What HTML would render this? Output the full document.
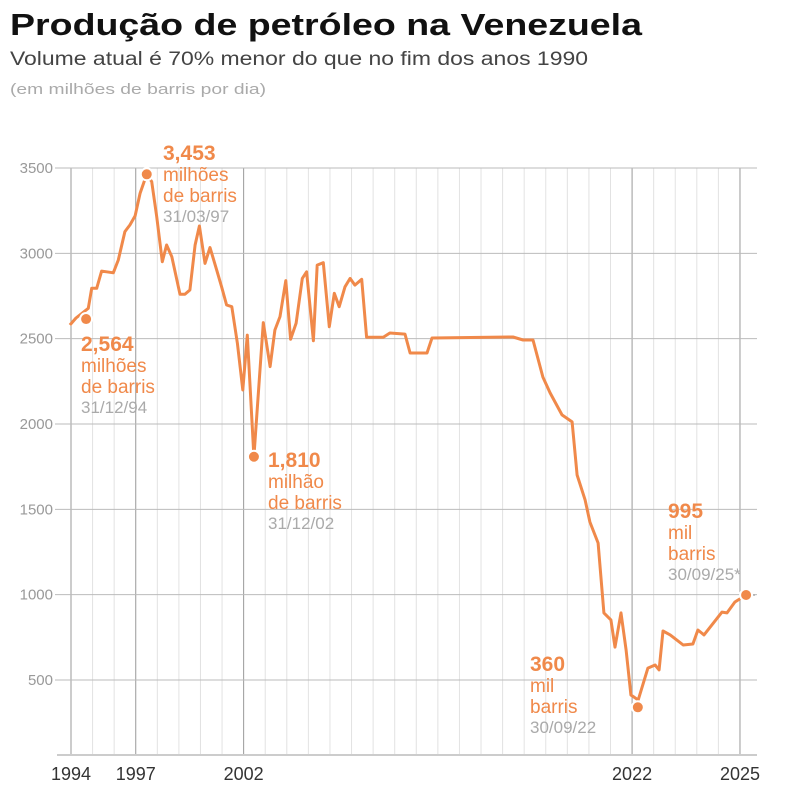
<!DOCTYPE html>
<html><head><meta charset="utf-8"><style>
body{margin:0;background:#fff;}
svg{display:block;font-family:"Liberation Sans",sans-serif;}
</style></head><body>
<svg id="chart" width="807" height="797" viewBox="0 0 807 797" xmlns="http://www.w3.org/2000/svg">
<text x="10" y="35" font-size="31" font-weight="bold" fill="#111" textLength="632" lengthAdjust="spacingAndGlyphs">Produção de petróleo na Venezuela</text>
<text x="10" y="65" font-size="19" fill="#444" textLength="578" lengthAdjust="spacingAndGlyphs">Volume atual é 70% menor do que no fim dos anos 1990</text>
<text x="10" y="94" font-size="15" fill="#aaa" textLength="256" lengthAdjust="spacingAndGlyphs">(em milhões de barris por dia)</text>
<g id="grid"></g>
<g id="axes"></g>
<g id="series"></g>
<g id="ann"></g>
</svg>
<script>
const years = [1993.95,1994.23,1994.80,1994.96,1995.19,1995.42,1995.65,1995.96,1996.19,1996.50,1996.73,1996.97,1997.20,1997.51,1997.74,1997.97,1998.23,1998.43,1998.67,1999.05,1999.28,1999.51,1999.75,1999.95,2000.21,2000.44,2000.75,2000.98,2001.21,2001.45,2001.71,2001.96,2002.19,2002.53,2003.01,2003.36,2003.61,2003.87,2004.17,2004.42,2004.70,2005.02,2005.24,2005.59,2005.79,2006.10,2006.41,2006.67,2006.92,2007.22,2007.48,2007.73,2008.08,2008.33,2009.19,2009.53,2010.31,2010.57,2011.44,2011.70,2015.87,2016.39,2016.90,2017.41,2017.78,2018.39,2018.91,2019.17,2019.58,2019.83,2020.25,2020.55,2020.91,2021.12,2021.43,2021.69,2021.94,2022.17,2022.44,2022.64,2022.75,2022.86,2023.06,2023.42,2023.69,2023.83,2024.00,2024.50,2024.64,2024.86,2025.17];
const values = [2580,2621,2678,2795,2795,2896,2892,2886,2961,3127,3166,3219,3352,3463,3420,3215,2951,3049,2980,2760,2760,2785,3049,3160,2941,3034,2902,2804,2697,2687,2473,2199,2521,1808,2594,2336,2551,2629,2840,2496,2590,2853,2892,2488,2931,2945,2570,2766,2687,2804,2853,2814,2848,2508,2508,2533,2527,2416,2416,2504,2510,2492,2492,2275,2182,2053,2012,1701,1555,1426,1303,893,852,693,893,676,412,383,570,588,559,787,764,705,711,793,764,898,893,957,998];
const yTicks = [500,1000,1500,2000,2500,3000,3500];
const xTickYears = [1994,1997,2002,2022,2025];
const highlightYears = [1994.70,1997.51,2002.53,2022.16,2025.17];
const highlightValues = [2615,3463,1808,340,998];
const highlightNums = ["2,564","3,453","1,810","360","995"];
const highlightUnit1 = ["milhões","milhões","milhão","mil","mil"];
const highlightUnit2 = ["de barris","de barris","de barris","barris","barris"];
const highlightDates = ["31/12/94","31/03/97","31/12/02","30/09/22","30/09/25*"];

const NS="http://www.w3.org/2000/svg";
const anchorsYear=[1994,1997,2002,2022,2025], anchorsU=[0,3,8,26,31];
const X0=71, STEP=21.58;
function xScale(yr){
  let i=0; while(i<anchorsYear.length-2 && yr>anchorsYear[i+1]) i++;
  const u=anchorsU[i]+(yr-anchorsYear[i])*(anchorsU[i+1]-anchorsU[i])/(anchorsYear[i+1]-anchorsYear[i]);
  return X0+u*STEP;
}
function yScale(v){return 680-(v-500)*0.17067;}
function mk(tag,attrs,parent){const e=document.createElementNS(NS,tag);for(const k in attrs)e.setAttribute(k,attrs[k]);parent.appendChild(e);return e;}
const grid=document.getElementById('grid'),axes=document.getElementById('axes'),series=document.getElementById('series'),ann=document.getElementById('ann');
const majorU=xTickYears.map(y=>Math.round((xScale(y)-X0)/STEP));
for(let k=0;k<=31;k++){
  const x=X0+k*STEP, major=majorU.includes(k);
  const l=mk('line',{x1:x,x2:x,y1:168,y2:755,stroke:major?'#999':'#e2e2e2','stroke-width':1},grid);
  
  
}
yTicks.forEach(v=>{
  const y=yScale(v);
  const l=mk('line',{x1:55,x2:757,y1:y,y2:y,stroke:'#bbb','stroke-width':1},grid);
  
  
  const t=mk('text',{x:53,y:y+5,'font-size':15,fill:'#999','text-anchor':'end'},axes);
  t.textContent=v;
  
  
});
const base=mk('line',{x1:57,x2:757,y1:755,y2:755,stroke:'#ccc','stroke-width':2},axes);


xTickYears.forEach(yr=>{
  const t=mk('text',{x:xScale(yr),y:780,'font-size':18,fill:'#333','text-anchor':'middle'},axes);
  t.textContent=yr;
  
  
});
const d=years.map((y,i)=>(i?'L':'M')+xScale(y).toFixed(1)+','+yScale(values[i]).toFixed(1)).join(' ');
const path=mk('path',{d:d,fill:'none',stroke:'#f0894a','stroke-width':3,'stroke-linejoin':'round'},series);


const last=years.length-1;
const dash=mk('line',{x1:xScale(years[last]),x2:757,y1:yScale(values[last]),y2:yScale(values[last]),stroke:'#aaa','stroke-width':1.5,'stroke-dasharray':'3,3'},series);


const labPos=[[81,351],[163,160],[268,467],[530,671],[668,518]];
highlightYears.forEach((yr,i)=>{
  const c=mk('circle',{cx:xScale(yr),cy:yScale(highlightValues[i]),r:6,fill:'#f0894a',stroke:'#fff','stroke-width':2},series);
  
  
  const [x,y]=labPos[i];
  const g=mk('g',{},ann);
  
  
  const t1=mk('text',{x:x,y:y,'font-size':21,'font-weight':'bold',fill:'#f0894a'},g);t1.textContent=highlightNums[i];
  const t2=mk('text',{x:x,y:y+21,'font-size':19,fill:'#f0894a'},g);t2.textContent=highlightUnit1[i];
  const t3=mk('text',{x:x,y:y+42,'font-size':19,fill:'#f0894a'},g);t3.textContent=highlightUnit2[i];
  const t4=mk('text',{x:x,y:y+62,'font-size':17,fill:'#aaa'},g);t4.textContent=highlightDates[i];
});
</script>
</body></html>
